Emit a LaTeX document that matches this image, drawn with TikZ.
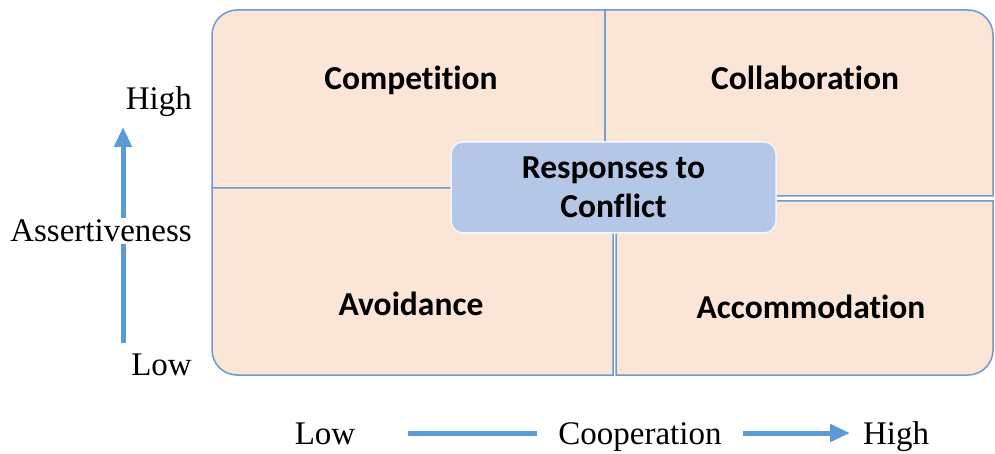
\documentclass[tikz,border=0pt]{standalone}
\usepackage{fontspec}
\setmainfont{Liberation Serif}
\newfontfamily\calib[Ligatures={NoCommon}]{Carlito}
\usetikzlibrary{arrows.meta}
\definecolor{peach}{HTML}{FBE5D6}
\definecolor{qline}{HTML}{6A9BD1}
\definecolor{cbox}{HTML}{B4C7E7}
\definecolor{arrowblue}{HTML}{5B9BD5}
\tikzset{
  quad/.style={fill=peach, draw=qline, line width=1.5pt},
  qlabel/.style={font=\calib\bfseries\fontsize{33.5}{39}\selectfont, inner sep=0pt, anchor=base},
  axlabel/.style={font=\fontsize{33}{38}\selectfont, inner sep=0pt, anchor=base},
  axarrow/.style={draw=arrowblue, line width=5pt, -{Triangle[length=20pt,width=17pt]}},
}
\begin{document}
\begin{tikzpicture}[x=1pt,y=-1pt]
\useasboundingbox (0,0) rectangle (995,454);
% quadrants
\path[quad] (212,188) -- (212,35) .. controls (212,21.2) and (223.2,10) .. (237,10) -- (605,10) -- (605,188) -- cycle;
\path[quad] (605,196) -- (605,10) -- (968,10) .. controls (981.8,10) and (993,21.2) .. (993,35) -- (993,196) -- cycle;
\path[quad] (212,188) -- (613,188) -- (613,375) -- (237,375) .. controls (223.2,375) and (212,363.8) .. (212,350) -- cycle;
\path[quad] (616,201) -- (993,201) -- (993,350) .. controls (993,363.8) and (981.8,375) .. (968,375) -- (616,375) -- cycle;
% quadrant labels
\node[qlabel] (comp) at (411,90) {Competition};
\node[qlabel] (coll) at (805,90) {Collaboration};
\node[qlabel] (avoid) at (411,315) {Avoidance};
\node[qlabel] (accom) at (811,318) {Accommodation};
% centre box
\node[fill=cbox, draw=white!85!cbox, line width=1.5pt, rounded corners=12pt,
      minimum width=325pt, minimum height=91pt, inner sep=0pt,
      font=\calib\bfseries\fontsize{33.5}{39}\selectfont, align=center] (resp) at (613.5,187.5)
      {Responses to\\Conflict};
% vertical axis
\coordinate (vlow) at (123,343);
\coordinate (vhigh) at (123,127);
\draw[axarrow] (vlow) -- (vhigh);
\node[axlabel, anchor=base east] (ahigh) at (192,110) {High};
\node[axlabel, anchor=base east] (alow) at (192,375) {Low};
\node[axlabel, fill=white, inner ysep=2pt] (assert) at (101,242) {Assertiveness};
% horizontal axis
\coordinate (hlow) at (408,433);
\coordinate (hhigh) at (850,433);
\draw[axarrow] (hlow) -- (hhigh);
\node[axlabel, fill=white, inner xsep=21pt, inner ysep=4pt] (coop) at (640,444) {Cooperation};
\node[axlabel] (blow) at (325,444) {Low};
\node[axlabel] (bhigh) at (896,444) {High};
\end{tikzpicture}
\end{document}
